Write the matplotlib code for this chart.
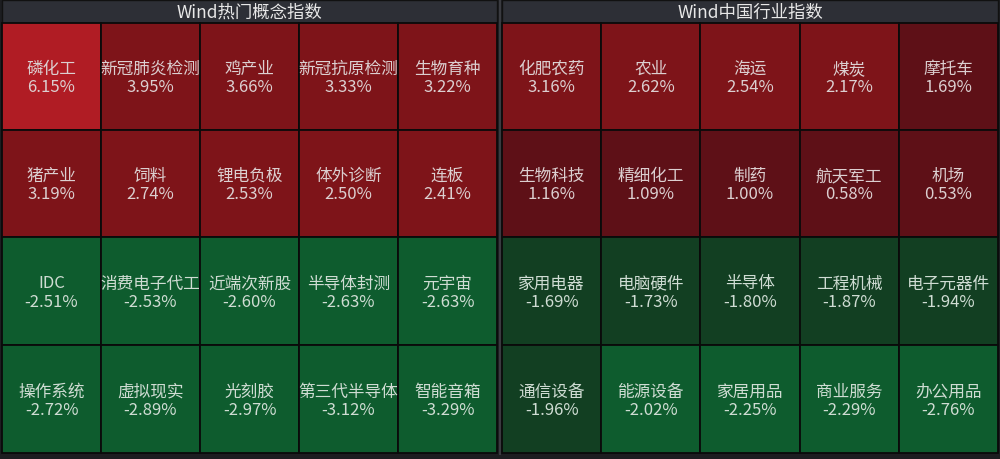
import numpy as np
import matplotlib.pyplot as plt
from matplotlib.patches import Rectangle

plt.rcParams['font.family'] = ['Noto Sans CJK SC', 'DejaVu Sans']

left_title = "Wind热门概念指数"
left_names = ["磷化工", "新冠肺炎检测", "鸡产业", "新冠抗原检测", "生物育种",
              "猪产业", "饲料", "锂电负极", "体外诊断", "连板",
              "IDC", "消费电子代工", "近端次新股", "半导体封测", "元宇宙",
              "操作系统", "虚拟现实", "光刻胶", "第三代半导体", "智能音箱"]
left_values = [6.15, 3.95, 3.66, 3.33, 3.22,
               3.19, 2.74, 2.53, 2.50, 2.41,
               -2.51, -2.53, -2.60, -2.63, -2.63,
               -2.72, -2.89, -2.97, -3.12, -3.29]

right_title = "Wind中国行业指数"
right_names = ["化肥农药", "农业", "海运", "煤炭", "摩托车",
               "生物科技", "精细化工", "制药", "航天军工", "机场",
               "家用电器", "电脑硬件", "半导体", "工程机械", "电子元器件",
               "通信设备", "能源设备", "家居用品", "商业服务", "办公用品"]
right_values = [3.16, 2.62, 2.54, 2.17, 1.69,
                1.16, 1.09, 1.00, 0.58, 0.53,
                -1.69, -1.73, -1.80, -1.87, -1.94,
                -1.96, -2.02, -2.25, -2.29, -2.76]


def cell_color(v):
    if v >= 5:
        return "#B01C24"
    if v >= 2:
        return "#7E1419"
    if v >= 0:
        return "#5E1017"
    if v > -2:
        return "#123F22"
    return "#0E5C2E"


fig = plt.figure(figsize=(10, 4.6), dpi=100)
fig.patch.set_facecolor("#1C1D20")
ax = fig.add_axes([0, 0, 1, 1])
ax.set_xlim(0, 1000)
ax.set_ylim(460, 0)
ax.axis("off")

header_h = 24
row_edges = [24, 131, 238, 346, 454]


def draw_panel(x0, x1, title, names, values):
    ax.add_patch(Rectangle((x0, 1), x1 - x0, header_h - 1, facecolor="#2D2F36",
                           edgecolor="#111111", linewidth=1))
    ax.text((x0 + x1) / 2, header_h / 2 + 0.5, title, color="#E8E8E8", fontsize=12.5,
            ha="center", va="center")
    col_edges = np.linspace(x0, x1, 6)
    for i, (name, val) in enumerate(zip(names, values)):
        r, c = divmod(i, 5)
        cx0, cx1 = col_edges[c], col_edges[c + 1]
        cy0, cy1 = row_edges[r], row_edges[r + 1]
        ax.add_patch(Rectangle((cx0, cy0), cx1 - cx0, cy1 - cy0,
                               facecolor=cell_color(val), edgecolor="#0A0A0A", linewidth=1.3))
        xm = (cx0 + cx1) / 2
        ym = (cy0 + cy1) / 2
        tc = "#DCCFD0" if val >= 0 else "#CFDCD3"
        ax.text(xm, ym - 8, name, color=tc, fontsize=12, ha="center", va="center")
        ax.text(xm, ym + 10.5, f"{val:.2f}%", color=tc, fontsize=12, ha="center", va="center")


draw_panel(2, 497, left_title, left_names, left_values)
draw_panel(502, 998, right_title, right_names, right_values)
ax.plot([499.5, 499.5], [0, 455], color="#3A3B40", linewidth=1.5)

fig.savefig("out.png", dpi=100, facecolor=fig.get_facecolor())
